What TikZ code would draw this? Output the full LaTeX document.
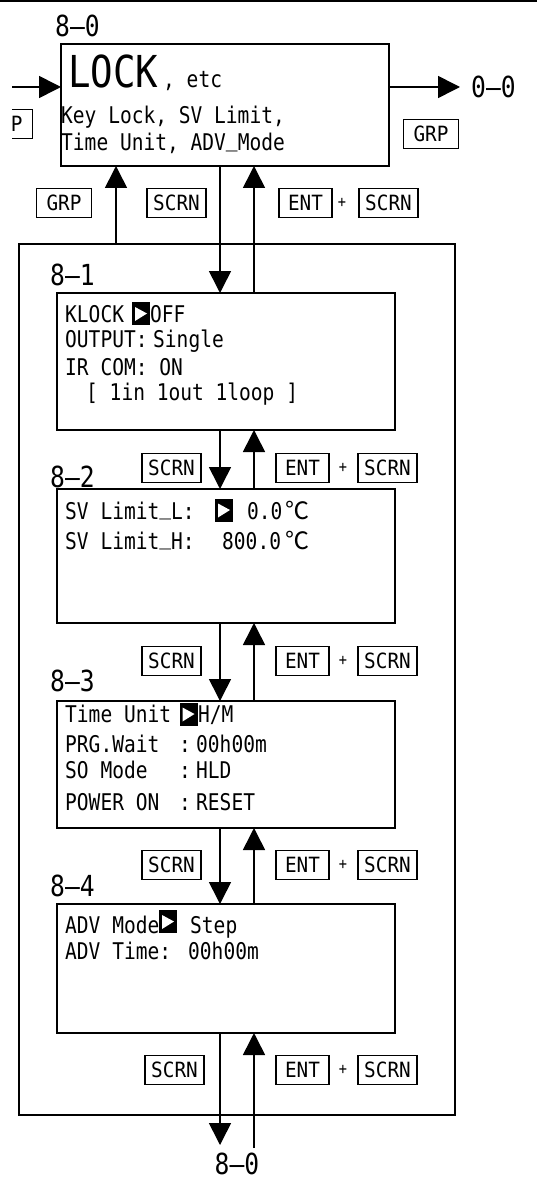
\documentclass[tikz,border=0pt]{standalone}
\usepackage{fontspec}
\usetikzlibrary{arrows.meta}
\newfontfamily\bodyf[FakeStretch=0.85]{DejaVu Sans Mono}
\newfontfamily\keyf[FakeStretch=0.92]{DejaVu Sans Mono}
\newfontfamily\cjkf{Noto Sans CJK JP}
\newcommand\usc{\raisebox{4.5pt}{\_}}
\begin{document}
\begin{tikzpicture}[x=1pt,y=-1pt,
  box/.style={draw, line width=1.6pt, inner sep=0pt, outer sep=0pt},
  key/.style={draw, line width=1.4pt, minimum height=29pt, inner sep=0pt, outer sep=0pt, font={\keyf\fontsize{21}{21}\selectfont}},
  scrn/.style={key, minimum width=59pt},
  ent/.style={key, minimum width=53pt},
  grp/.style={key, minimum width=55pt},
  txt/.style={inner sep=0pt, anchor=base west, font={\bodyf\fontsize{23}{23}\selectfont}},
  bigtxt/.style={txt, font={\bodyf\fontsize{44}{44}\selectfont}},
  deg/.style={txt, font={\cjkf\fontsize{24}{24}\selectfont}},
  lbl/.style={inner sep=0pt, anchor=west, font={\bodyf\fontsize{29}{29}\selectfont}},
  plus/.style={inner sep=0pt, font={\bodyf\fontsize{16}{16}\selectfont}},
  tri/.style={fill=black, minimum width=18pt, minimum height=23pt, inner sep=0pt, outer sep=0pt,
    path picture={\fill[white] ([shift={(3pt,-5pt)}]path picture bounding box.north west)
      -- ([shift={(-3pt,0pt)}]path picture bounding box.east)
      -- ([shift={(3pt,4pt)}]path picture bounding box.south west) -- cycle;}},
  arr/.style={line width=1.6pt, -{Triangle[length=22pt,width=22pt]}}
  ]
\fill[white] (0,0) rectangle (537,1182);
\useasboundingbox (0,0) rectangle (537,1182);
% top rule
\fill[black] (0,0) rectangle (537,2);

% boxes
\node[box, minimum width=328pt, minimum height=122pt] (b0) at (225,105) {};
\node[box, minimum width=436pt, minimum height=871pt] (outer) at (237,679.5) {};
\node[box, minimum width=338pt, minimum height=137pt] (b1) at (226,361.5) {};
\node[box, minimum width=338pt, minimum height=134pt] (b2) at (226,556) {};
\node[box, minimum width=338pt, minimum height=127pt] (b3) at (226,764.5) {};
\node[box, minimum width=338pt, minimum height=129pt] (b4) at (226,968.5) {};

% labels
\node[lbl] (l0) at (55,26) {8–0};
\node[lbl] (l1) at (50,275) {8–1};
\node[lbl] (l2) at (50,477) {8–2};
\node[lbl] (l3) at (50,681) {8–3};
\node[lbl] (l4) at (50,886) {8–4};

% 8-0 content
\node[bigtxt] (lock) at (68,88) {LOCK};
\node[txt] (etc) at (163,88) {,~etc};
\node[txt] (kl) at (61,124) {Key~Lock,~SV~Limit,};
\node[txt] (tu) at (61,151) {Time~Unit,~ADV\usc Mode};

% left (clipped) incoming arrow and key
\begin{scope}
\clip (12,0) rectangle (537,1182);
\coordinate (inL) at (0,87);
\draw[arr] (inL) -- (b0.west |- inL);
\node[grp] (grpL) at (5,124) {GRP};
\end{scope}

% right outgoing arrow
\coordinate (outR) at (460,87);
\draw[arr] (b0.east |- outR) -- (outR);
\node[lbl] (to00) at (471,87) {0–0};
\node[grp] (grpR) at (431,134) {GRP};

% 8-1 content
\node[txt] (k1a) at (65,322) {KLOCK};
\node[tri] (t1) at (141,313.5) {};
\node[txt] (k1b) at (150,322) {OFF};
\node[txt] (k1c) at (65,347) {OUTPUT:};
\node[txt] (k1d) at (153,347) {Single};
\node[txt] (k1e) at (65,375) {IR~COM:~ON};
\node[txt] (k1f) at (86,400) {[~1in~1out~1loop~]};

% 8-2 content
\node[txt] (k2a) at (65,519) {SV~Limit\usc L:};
\node[tri] (t2) at (224,510) {};
\node[txt] (k2b) at (247,519) {0.0};
\node[deg] (k2c) at (285,519) {℃};
\node[txt] (k2d) at (65,549) {SV~Limit\usc H:};
\node[txt] (k2e) at (222,549) {800.0};
\node[deg] (k2f) at (285,549) {℃};

% 8-3 content
\node[txt] (k3a) at (65,722) {Time~Unit};
\node[tri] (t3) at (188.5,714) {};
\node[txt] (k3b) at (198,722) {H/M};
\node[txt] (k3c) at (65,752) {PRG.Wait};
\node[txt, anchor=base] (k3d) at (185,752) {:};
\node[txt] (k3e) at (196,752) {00h00m};
\node[txt] (k3f) at (65,778) {SO~Mode};
\node[txt, anchor=base] (k3g) at (185,778) {:};
\node[txt] (k3h) at (196,778) {HLD};
\node[txt] (k3i) at (65,810) {POWER~ON};
\node[txt, anchor=base] (k3j) at (185,810) {:};
\node[txt] (k3k) at (196,810) {RESET};

% 8-4 content
\node[txt] (k4a) at (65,933) {ADV~Mode};
\node[tri] (t4) at (168,921.5) {};
\node[txt] (k4b) at (190,933) {Step};
\node[txt] (k4c) at (65,959) {ADV~Time:};
\node[txt] (k4d) at (188,959) {00h00m};

% connector columns
\coordinate (gx) at (116,0);
\coordinate (dn) at (220,0);
\coordinate (up) at (254,0);

\draw[arr] (outer.north -| gx) -- (b0.south -| gx);
\draw[arr] (b0.south -| dn) -- (b1.north -| dn);
\draw[arr] (b1.north -| up) -- (b0.south -| up);
\draw[arr] (b1.south -| dn) -- (b2.north -| dn);
\draw[arr] (b2.north -| up) -- (b1.south -| up);
\draw[arr] (b2.south -| dn) -- (b3.north -| dn);
\draw[arr] (b3.north -| up) -- (b2.south -| up);
\draw[arr] (b3.south -| dn) -- (b4.north -| dn);
\draw[arr] (b4.north -| up) -- (b3.south -| up);
\coordinate (endD) at (220,1145);
\coordinate (startU) at (254,1148);
\draw[arr] (b4.south -| dn) -- (endD);
\draw[arr] (startU) -- (b4.south -| up);
\node[lbl, anchor=center] (to80) at (237,1164) {8–0};

% key rows
\node[grp] (r0g) at (64,203) {GRP};
\node[scrn] (r0s) at (176.5,203) {SCRN};
\node[ent] (r0e) at (305.5,203) {ENT};
\node[plus] (r0p) at (342,203) {+};
\node[scrn] (r0t) at (388.5,203) {SCRN};

\node[scrn] (r1s) at (171.5,468) {SCRN};
\node[ent] (r1e) at (302.5,468) {ENT};
\node[plus] (r1p) at (343,468) {+};
\node[scrn] (r1t) at (387.5,468) {SCRN};

\node[scrn] (r2s) at (171.5,661) {SCRN};
\node[ent] (r2e) at (302.5,661) {ENT};
\node[plus] (r2p) at (343,661) {+};
\node[scrn] (r2t) at (387.5,661) {SCRN};

\node[scrn] (r3s) at (171.5,865) {SCRN};
\node[ent] (r3e) at (302.5,865) {ENT};
\node[plus] (r3p) at (343,865) {+};
\node[scrn] (r3t) at (387.5,865) {SCRN};

\node[scrn] (r4s) at (174.5,1070) {SCRN};
\node[ent] (r4e) at (302.5,1070) {ENT};
\node[plus] (r4p) at (343,1070) {+};
\node[scrn] (r4t) at (387.5,1070) {SCRN};
\end{tikzpicture}
\end{document}
